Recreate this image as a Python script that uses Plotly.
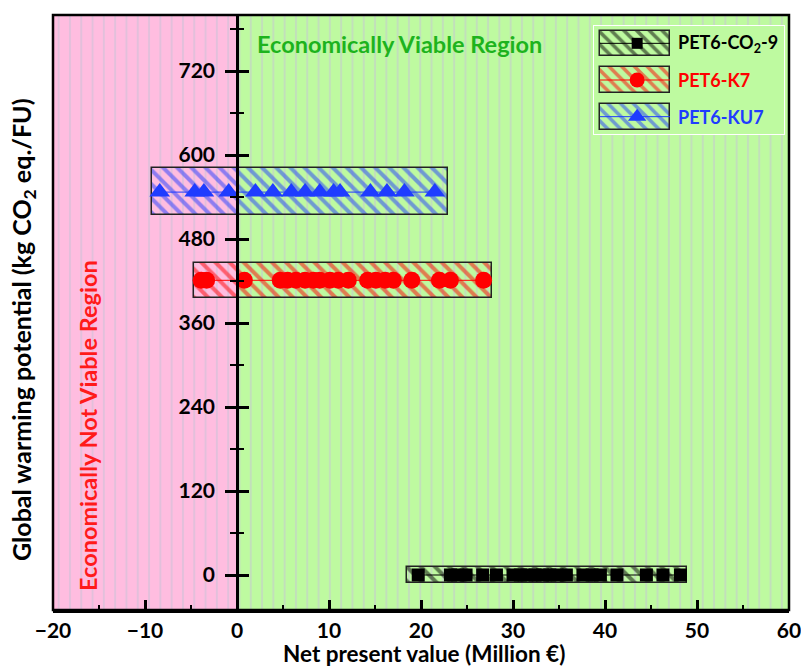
import plotly.graph_objects as go

# ---- data -----------------------------------------------------------------
series_names = ["PET6-CO<sub>2</sub>-9", "PET6-K7", "PET6-KU7"]
series_gwp = [0, 421, 547]  # kg CO2 eq./FU

co2_9_npv = [19.7, 23.2, 24.0, 24.9, 26.7, 28.2, 30.0, 30.8, 31.5, 32.4, 33.2,
             34.0, 34.8, 35.8, 37.6, 38.6, 39.5, 41.3, 44.5, 46.3, 48.2]
k7_npv = [-3.9, -3.3, 0.8, 4.7, 5.5, 6.4, 7.4, 8.3, 9.0, 10.1, 11.0, 12.1,
          14.2, 15.1, 16.1, 17.0, 19.0, 22.0, 23.2, 26.8]
ku7_npv = [-8.4, -4.6, -3.6, -0.9, 2.0, 3.9, 5.9, 7.4, 9.0, 10.5, 11.2, 14.5,
           16.3, 18.2, 21.5]
series_npv = [co2_9_npv, k7_npv, ku7_npv]

# envelope boxes (NPV span and GWP span) around each scenario cloud
box_npv_lo = [18.5, -4.7, -9.2]
box_npv_hi = [48.9, 27.7, 22.9]
box_gwp_lo = [-11, 396, 514]
box_gwp_hi = [11, 446, 581]

x_range = [-20, 60]
y_range = [-50, 800]

# ---- styles ---------------------------------------------------------------
FONT = "Lato"
colors = ["#000000", "#FF0000", "#1F3CFF"]
symbols = ["square", "circle", "triangle-up"]
msizes = [13, 17, 18]
PINK = "#FFBDE0"
GREEN = "#BEFAA0"
STRIPE = "#C6C4D6"

fig = go.Figure()

# background regions with vertical striping
for lo, hi, col in [(x_range[0], 0, PINK), (0, x_range[1], GREEN)]:
    fig.add_trace(go.Bar(
        x=[(lo + hi) / 2], y=[y_range[1] - y_range[0]], base=[y_range[0]],
        width=[hi - lo], orientation="v",
        marker=dict(color=col, line=dict(width=0),
                    pattern=dict(shape="|", fgcolor=STRIPE, bgcolor=col,
                                 size=11.3, solidity=0.18, fillmode="overlay")),
        showlegend=False, hoverinfo="skip"))

# hatched envelope boxes
for i in range(3):
    fig.add_trace(go.Bar(
        y=[(box_gwp_lo[i] + box_gwp_hi[i]) / 2],
        x=[box_npv_hi[i] - box_npv_lo[i]], base=[box_npv_lo[i]],
        width=[box_gwp_hi[i] - box_gwp_lo[i]], orientation="h",
        marker=dict(color="rgba(0,0,0,0)", line=dict(color="#222222", width=1.5),
                    pattern=dict(shape="\\", fgcolor=colors[i],
                                 bgcolor="rgba(0,0,0,0)", size=10, solidity=0.4)),
        showlegend=False, hoverinfo="skip"))

# scenario points
for i in range(3):
    fig.add_trace(go.Scatter(
        x=series_npv[i], y=[series_gwp[i]] * len(series_npv[i]),
        mode="lines+markers", name=series_names[i],
        line=dict(color=colors[i], width=1),
        marker=dict(symbol=symbols[i], size=msizes[i], color=colors[i]),
        showlegend=False))

# helper trace for the inward half of the crossing y ticks
fig.add_trace(go.Scatter(x=[None], y=[None], yaxis="y2", showlegend=False,
                         hoverinfo="skip"))

# ---- custom legend in an inset subplot --------------------------------------
fig.add_trace(go.Bar(
    x=[1], base=[0], y=[1.5], width=[3], orientation="h", xaxis="x3", yaxis="y3",
    marker=dict(color=GREEN, line=dict(color="white", width=2)),
    showlegend=False, hoverinfo="skip"))
s_lo, s_hi, m_x, t_x = 0.036, 0.401, 0.23, 0.43
for i in range(3):
    fig.add_trace(go.Bar(
        x=[s_hi - s_lo], base=[s_lo], y=[i + 0.5], width=[0.7], orientation="h",
        xaxis="x3", yaxis="y3",
        marker=dict(color="rgba(0,0,0,0)", line=dict(color="#222222", width=1.5),
                    pattern=dict(shape="\\", fgcolor=colors[i],
                                 bgcolor="rgba(0,0,0,0)", size=9, solidity=0.4)),
        showlegend=False, hoverinfo="skip"))
    fig.add_trace(go.Scatter(
        x=[s_lo, s_hi], y=[i + 0.5, i + 0.5], mode="lines", xaxis="x3", yaxis="y3",
        line=dict(color=colors[i], width=1), showlegend=False, hoverinfo="skip"))
    fig.add_trace(go.Scatter(
        x=[m_x], y=[i + 0.5], mode="markers", xaxis="x3", yaxis="y3",
        marker=dict(symbol=symbols[i], size=msizes[i] - 2, color=colors[i]),
        showlegend=False, hoverinfo="skip"))
    fig.add_annotation(x=t_x, y=i + 0.5, xref="x3", yref="y3", text=series_names[i],
                       showarrow=False, xanchor="left", yanchor="middle",
                       font=dict(family=FONT, size=18, color=colors[i], weight="bold"))

# ---- layout -----------------------------------------------------------------
W, H = 801, 667
ML, MR, MT, MB = 53, 12, 15, 57
pw, ph = W - ML - MR, H - MT - MB
zero_frac = (0 - x_range[0]) / (x_range[1] - x_range[0])

tickfont = dict(family=FONT, size=21, color="black", weight="bold")
fig.update_layout(
    width=W, height=H, margin=dict(l=ML, r=MR, t=MT, b=MB, autoexpand=False),
    paper_bgcolor="white", plot_bgcolor="rgba(0,0,0,0)",
    barmode="overlay", bargap=0, showlegend=False,
    xaxis=dict(range=x_range, dtick=10, tick0=0, showgrid=False, zeroline=False,
               automargin=False, ticklabeloverflow="allow",
               showline=True, linecolor="black", linewidth=2.5,
               ticks="inside", ticklen=10, tickwidth=2.5, tickcolor="black",
               minor=dict(ticks="inside", ticklen=5, tickwidth=2, dtick=5,
                          tick0=0, tickcolor="black"),
               tickfont=tickfont),
    yaxis=dict(range=y_range, dtick=120, tick0=0, showgrid=False, zeroline=False,
               anchor="free", position=zero_frac, automargin=False,
               showline=True, linecolor="black", linewidth=2.5,
               ticks="outside", ticklen=11, tickwidth=2.5, tickcolor="black",
               minor=dict(ticks="outside", ticklen=6, tickwidth=2, dtick=60,
                          tick0=0, tickcolor="black"),
               tickfont=tickfont, ticklabelstandoff=6),
    yaxis2=dict(range=y_range, dtick=120, tick0=0, overlaying="y",
                anchor="free", position=zero_frac, showgrid=False,
                automargin=False,
                zeroline=False, showline=False, showticklabels=False,
                ticks="inside", ticklen=11, tickwidth=2.5, tickcolor="black",
                minor=dict(ticks="inside", ticklen=6, tickwidth=2, dtick=60,
                           tick0=0, tickcolor="black")),
    xaxis3=dict(domain=[(593 - ML) / pw, (785 - ML) / pw], range=[0, 1],
                anchor="y3", visible=False, fixedrange=True, automargin=False),
    yaxis3=dict(domain=[(H - MB - 135) / ph, (H - MB - 25) / ph], range=[3, 0],
                anchor="x3", visible=False, fixedrange=True, automargin=False),
)

# plot frame
fig.add_shape(type="rect", xref="paper", yref="paper", x0=0, y0=0, x1=1, y1=1,
              line=dict(color="black", width=2.5), layer="above")


def px_x(px):
    return (px - ML) / pw


def px_y(py):
    return (H - MB - py) / ph


# region labels and axis titles
fig.add_annotation(x=px_x(399), y=px_y(44), xref="paper", yref="paper",
                   xanchor="center", yanchor="middle",
                   text="Economically Viable Region", showarrow=False,
                   font=dict(family=FONT, size=23.5, color="#1DB31D", weight="bold"))
fig.add_annotation(x=px_x(88), y=px_y(426), xref="paper", yref="paper",
                   xanchor="center", yanchor="middle",
                   text="Economically Not Viable Region",
                   textangle=-90, showarrow=False,
                   font=dict(family=FONT, size=23.5, color="#FF1A1A", weight="bold"))
fig.add_annotation(x=px_x(23), y=px_y(330), xref="paper", yref="paper",
                   xanchor="center", yanchor="middle",
                   text="Global warming potential (kg CO<sub>2</sub> eq./FU)",
                   textangle=-90, showarrow=False,
                   font=dict(family=FONT, size=25, color="black", weight="bold"))
fig.add_annotation(x=px_x(424), y=px_y(653), xref="paper", yref="paper",
                   xanchor="center", yanchor="middle",
                   text="Net present value (Million €)", showarrow=False,
                   font=dict(family=FONT, size=22.5, color="black", weight="bold"))

fig.write_html("out.html")
